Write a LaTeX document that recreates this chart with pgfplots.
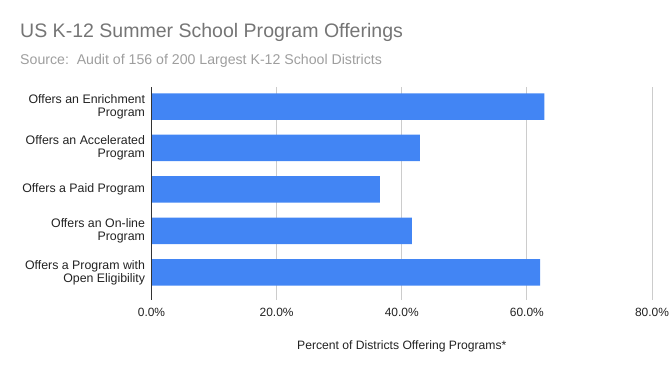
\documentclass[border=0pt]{standalone}
\usepackage{pgfplots}
\pgfplotsset{compat=1.18}
\usepackage{fontspec}
\setmainfont{Liberation Sans}
\definecolor{barblue}{HTML}{4285F4}
\definecolor{titlegray}{HTML}{757575}
\definecolor{subgray}{HTML}{9E9E9E}
\definecolor{labelcol}{HTML}{222222}
\definecolor{gridcol}{HTML}{CCCCCC}
\definecolor{zerocol}{HTML}{333333}
\begin{document}
\begin{tikzpicture}
\useasboundingbox (0bp,0bp) rectangle (671bp,371bp);
\node[anchor=base west, inner sep=0, text=titlegray, font=\fontsize{19.6}{22}\selectfont] at (20bp,333.3bp) {US K-12 Summer School Program Offerings};
\node[anchor=base west, inner sep=0, text=subgray, font=\fontsize{14.2}{16}\selectfont] at (20bp,306bp) {Source:\ \ Audit of 156 of 200 Largest K-12 School Districts};
\begin{axis}[
  at={(151.5bp,71bp)}, anchor=south west,
  scale only axis, width=500.5bp, height=212.5bp,
  xbar, bar width=26.5bp,
  xmin=0, xmax=80,
  ymin=-0.458, ymax=4.663, y dir=reverse,
  ytick={0,1,2,3,4},
  yticklabels={{Offers an Enrichment\\Program},{Offers an Accelerated\\Program},{Offers a Paid Program},{Offers an On-line\\Program},{Offers a Program with\\Open Eligibility}},
  yticklabel style={align=right, anchor=east, inner sep=0pt, xshift=-6.3bp, text=labelcol, font=\fontsize{12.4}{13.4}\selectfont},
  xtick={0,20,40,60,80},
  xticklabels={0.0\%,20.0\%,40.0\%,60.0\%,80.0\%},
  xticklabel style={anchor=base, inner sep=0pt, yshift=-16.7bp, text=labelcol, font=\fontsize{12}{14}\selectfont},
  xmajorgrids, grid style={gridcol, line width=0.8bp},
  axis line style={draw=none},
  major tick length=0pt,
  xlabel={Percent of Districts Offering Programs*},
  xlabel style={anchor=base, inner sep=0pt, at={(0.5,0)}, yshift=-49bp, text=labelcol, font=\fontsize{12.2}{14}\selectfont},
  clip=false,
]
\addplot[fill=barblue, draw=none] coordinates {(62.8,0) (42.9,1) (36.5,2) (41.6,3) (62.1,4)};
\draw[zerocol, line width=1bp] (axis cs:0,-0.458) -- (axis cs:0,4.663);
\end{axis}
\end{tikzpicture}
\end{document}
